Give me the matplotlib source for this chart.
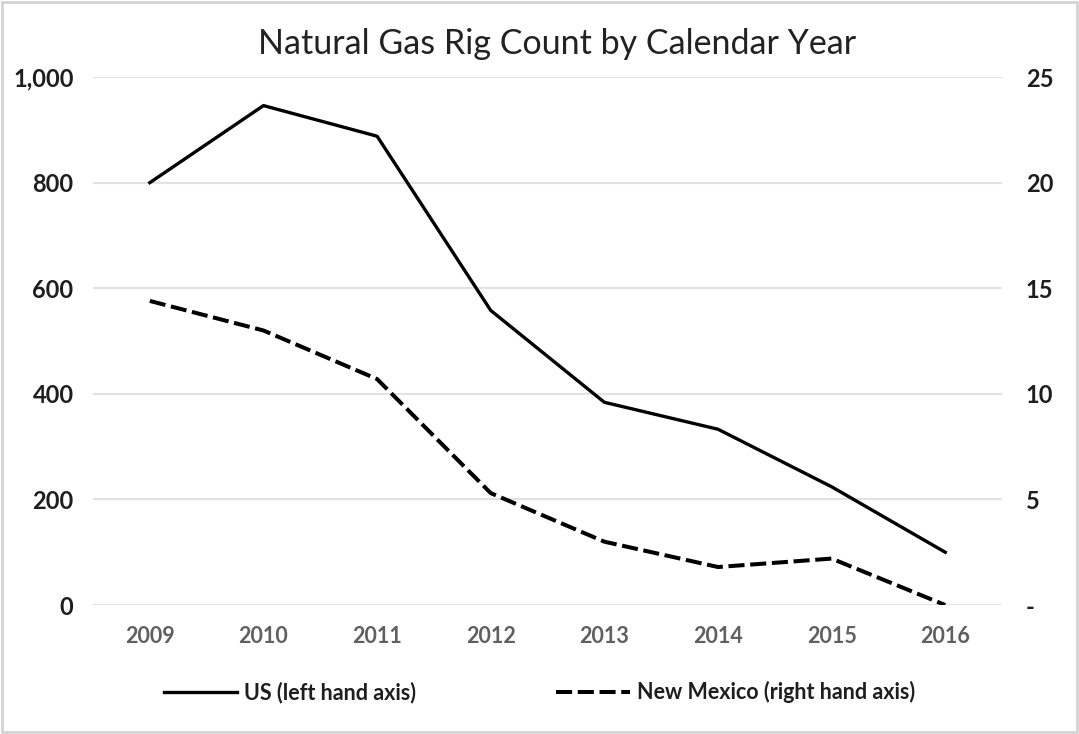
#! /usr/bin/env python3

import matplotlib
matplotlib.use('Agg')
import matplotlib.pyplot as plt
from matplotlib.patches import Rectangle
from matplotlib.ticker import FuncFormatter


years = ['2009', '2010', '2011', '2012', '2013', '2014', '2015', '2016']
us_rigs = [800, 946, 888, 558, 384, 333, 224, 100]
nm_rigs = [14.4, 13.0, 10.7, 5.3, 3.0, 1.8, 2.2, 0.0]

plt.rcParams['font.family'] = ['Lato', 'DejaVu Sans']

fig = plt.figure(figsize=(10.79, 7.34), dpi=100)
ax = fig.add_axes([0.0862, 0.1757, 0.8425, 0.7193])
ax2 = ax.twinx()

x = list(range(len(years)))
l1, = ax.plot(x, us_rigs, color='black', lw=2.4, solid_joinstyle='round',
              label='US (left hand axis)')
l2, = ax2.plot(x, nm_rigs, color='black', lw=2.9, ls=(0, (4.0, 1.4)),
               label='New Mexico (right hand axis)')

ax.set_xlim(-0.5, len(years) - 0.5)
ax.set_ylim(0, 1000)
ax2.set_ylim(0, 25)
ax.set_yticks(range(0, 1001, 200))
ax2.set_yticks(range(0, 26, 5))
ax.yaxis.set_major_formatter(FuncFormatter(lambda v, p: f'{v:,.0f}'))
ax2.yaxis.set_major_formatter(FuncFormatter(lambda v, p: '-' if v == 0 else f'{v:.0f}'))
ax.set_xticks(x)
ax.set_xticklabels(years)

ax.grid(axis='y', color='#e2e2e2', lw=1.5)
ax.set_axisbelow(True)
for a in (ax, ax2):
    for s in a.spines.values():
        s.set_visible(False)
    a.tick_params(length=0)

ax.tick_params(axis='y', pad=14, labelsize=17, labelcolor='#1e1e1e')
ax2.tick_params(axis='y', pad=17, labelsize=17, labelcolor='#1e1e1e')
ax.tick_params(axis='x', pad=15, labelsize=15.5, labelcolor='#606060')
for lab in ax.get_yticklabels() + ax2.get_yticklabels() + ax.get_xticklabels():
    lab.set_fontweight('bold')

fig.text(0.516, 0.94, 'Natural Gas Rig Count by Calendar Year',
         ha='center', va='center', fontsize=24.5, color='#222222')

leg = fig.legend(handles=[l1, l2], loc='center', bbox_to_anchor=(0.5, 0.057),
                 ncol=2, frameon=False, handlelength=3.4, handletextpad=0.35,
                 columnspacing=6.5, prop={'size': 15.5, 'weight': 'bold'})
for t in leg.get_texts():
    t.set_color('#1e1e1e')

# thin grey frame round the whole figure
fig.patches.append(Rectangle((0.002, 0.003), 0.996, 0.994, transform=fig.transFigure,
                             fill=False, edgecolor='#d4d4d4', lw=2))

fig.savefig('out.png', dpi=100)
